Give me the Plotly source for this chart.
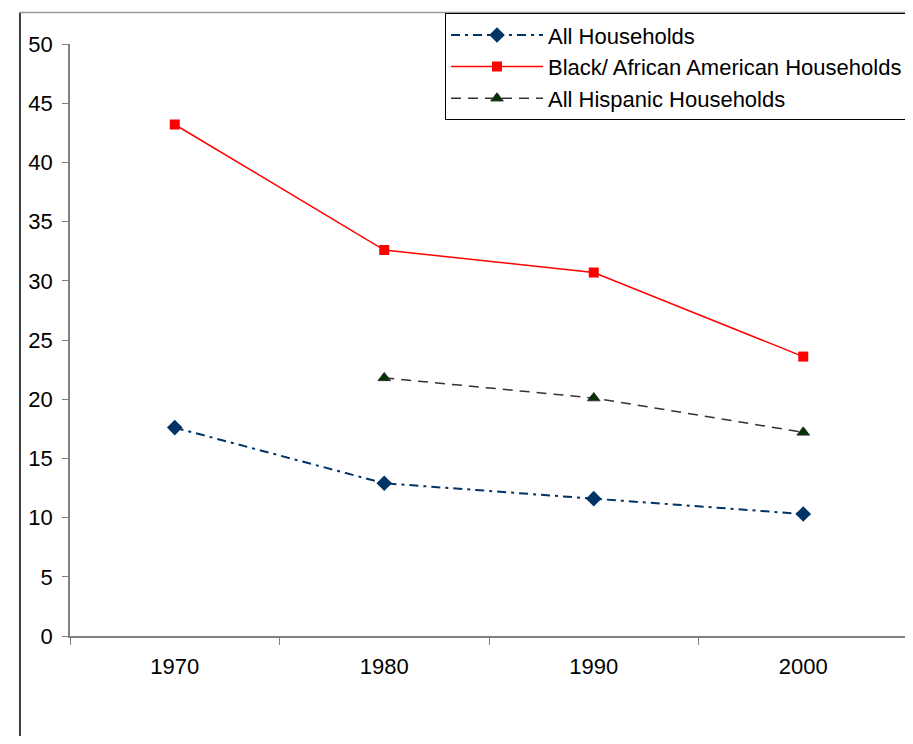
import plotly.graph_objects as go

years = ["1970", "1980", "1990", "2000"]
all_households = [17.6, 12.9, 11.6, 10.3]
black_households = [43.2, 32.6, 30.7, 23.6]
hispanic_years = ["1980", "1990", "2000"]
hispanic_households = [21.8, 20.1, 17.2]
y_ticks = [0, 5, 10, 15, 20, 25, 30, 35, 40, 45, 50]

fig = go.Figure()
fig.add_trace(go.Scatter(
    x=years, y=all_households, name="All Households", mode="lines+markers",
    line=dict(color="#003366", width=2, dash="9px,5px,3px,5px"),
    marker=dict(symbol="diamond", size=12, color="#003366"),
))
fig.add_trace(go.Scatter(
    x=years, y=black_households, name="Black/ African American Households", mode="lines+markers",
    line=dict(color="#FF0000", width=1.5),
    marker=dict(symbol="square", size=10, color="#FF0000"),
))
fig.add_trace(go.Scatter(
    x=hispanic_years, y=hispanic_households, name="All Hispanic Households", mode="lines+markers",
    line=dict(color="#333333", width=1.5, dash="10px,7px"),
    marker=dict(symbol="triangle-up", size=11, color="#003300", line=dict(color="#333333", width=1)),
))

fig.update_layout(
    width=905, height=728,
    margin=dict(l=62, r=5, t=33, b=100),
    paper_bgcolor="white", plot_bgcolor="white",
    font=dict(family="Liberation Sans, Arial, sans-serif", size=22, color="black"),
    showlegend=True,
    legend=dict(
        x=1.0, xanchor="right", y=1.052, yanchor="top",
        bordercolor="black", borderwidth=1, bgcolor="white",
        font=dict(size=22), tracegroupgap=0, itemwidth=92,
    ),
    xaxis=dict(
        type="category", categoryorder="array", categoryarray=years,
        range=[-0.5, 3.5], showgrid=False, zeroline=False,
        showline=True, linecolor="#808080", linewidth=1.5,
        ticks="outside", tickson="boundaries", ticklen=7, tickcolor="#808080",
        tickfont=dict(size=22), ticklabelstandoff=10, fixedrange=True,
    ),
    yaxis=dict(
        range=[0, 50], tickvals=y_ticks, showgrid=False, zeroline=False,
        showline=True, linecolor="#808080", linewidth=1.5,
        ticks="outside", ticklen=6, tickcolor="#808080",
        tickfont=dict(size=22), ticklabelstandoff=5, fixedrange=True,
    ),
    shapes=[
        dict(type="line", xref="paper", yref="paper", x0=-0.0597, x1=-0.0597, y0=1.053, y1=-0.2,
             line=dict(color="black", width=1.5)),
        dict(type="line", xref="paper", yref="paper", x0=-0.0597, x1=1.01, y0=1.053, y1=1.053,
             line=dict(color="#999999", width=1.5)),
    ],
)

fig.write_html("out.html")
